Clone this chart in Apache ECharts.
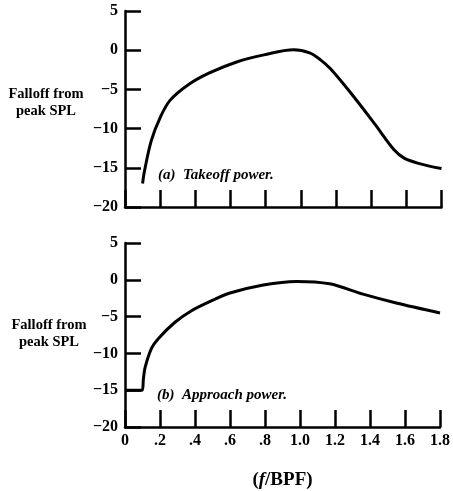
<!DOCTYPE html>
<html><head><meta charset="utf-8">
<script src="https://cdn.jsdelivr.net/npm/echarts@6/dist/echarts.min.js"></script>
<style>html,body{margin:0;padding:0;background:#fff}#c{width:453px;height:491px}</style>
</head><body><div id="c"></div>
<script>
// Data
const xTickLabels = ['0','.2','.4','.6','.8','1.0','1.2','1.4','1.6','1.8'];
const yTickLabels = ['\u221220','\u221215','\u221210','\u22125','0','5'];
const takeoffX = [0.10,0.11,0.15,0.20,0.256,0.36,0.48,0.635,0.79,0.96,1.05,1.11,1.17,1.30,1.42,1.53,1.59,1.68,1.80];
const takeoffY = [-17.0,-15.5,-11.5,-8.6,-6.4,-4.4,-2.9,-1.5,-0.6,0.05,-0.35,-1.2,-2.4,-5.9,-9.4,-12.7,-13.8,-14.5,-15.1];
const approachX = [0.0,0.098,0.105,0.115,0.152,0.19,0.284,0.38,0.49,0.60,0.79,0.98,1.17,1.36,1.55,1.80];
const approachY = [-15.0,-15.0,-13.5,-11.9,-9.3,-8.0,-5.8,-4.2,-2.9,-1.8,-0.7,-0.22,-0.55,-1.95,-3.15,-4.5];
const yLabelText = 'Falloff from\npeak SPL';
const captionA = '(a)  Takeoff power.';
const captionB = '(b)  Approach power.';

const serif = '"Liberation Serif","DejaVu Serif",serif';
const pair = (xs, ys) => xs.map((x, i) => [x, ys[i]]);

function xAxis(gi, showLabels) {
  return {
    type: 'value', gridIndex: gi, min: 0, max: 1.8, interval: 0.2,
    axisLine: { show: true, onZero: false, lineStyle: { color: '#000', width: 2.5 } },
    axisTick: { show: true, inside: true, length: 17, lineStyle: { color: '#000', width: 2.5 } },
    splitLine: { show: false },
    axisLabel: {
      show: showLabels, margin: 6, color: '#000', fontFamily: serif, fontWeight: 'bold', fontSize: 16,
      formatter: v => xTickLabels[Math.round(v / 0.2)]
    },
    name: showLabels ? '{p|(}{i|f}{p|/BPF)}' : '',
    nameLocation: 'middle', nameGap: 44,
    nameTextStyle: { rich: {
      p: { fontFamily: serif, fontWeight: 'bold', fontSize: 19, color: '#000' },
      i: { fontFamily: serif, fontWeight: 'bold', fontStyle: 'italic', fontSize: 19, color: '#000' }
    } }
  };
}
function yAxis(gi) {
  return {
    type: 'value', gridIndex: gi, min: -20, max: 5, interval: 5,
    axisLine: { show: true, onZero: false, lineStyle: { color: '#000', width: 2.5 } },
    axisTick: { show: true, inside: true, length: 16, lineStyle: { color: '#000', width: 2.5 } },
    splitLine: { show: false },
    axisLabel: {
      margin: 7, color: '#000', fontFamily: serif, fontWeight: 'bold', fontSize: 16,
      formatter: v => yTickLabels[Math.round((v + 20) / 5)]
    }
  };
}

const chart = echarts.init(document.getElementById('c'), null, { renderer: 'canvas' });
chart.setOption({
  backgroundColor: '#fff',
  animation: false,
  grid: [
    { left: 125, right: 11.5, top: 11, height: 196 },
    { left: 125, right: 11.5, top: 243, height: 188 }
  ],
  xAxis: [xAxis(0, false), xAxis(1, true)],
  yAxis: [yAxis(0), yAxis(1)],
  series: [
    { type: 'line', xAxisIndex: 0, yAxisIndex: 0, data: pair(takeoffX, takeoffY), smooth: 0.35,
      showSymbol: false, lineStyle: { color: '#000', width: 3 } },
    { type: 'line', xAxisIndex: 1, yAxisIndex: 1, data: pair(approachX, approachY), smooth: 0.3,
      showSymbol: false, lineStyle: { color: '#000', width: 3 } }
  ],
  graphic: [
    { type: 'text', x: 46, y: 103, style: { text: yLabelText, textAlign: 'center', textVerticalAlign: 'middle',
      font: 'bold 14.5px ' + serif, lineHeight: 17, fill: '#000' } },
    { type: 'text', x: 49, y: 334, style: { text: yLabelText, textAlign: 'center', textVerticalAlign: 'middle',
      font: 'bold 14.5px ' + serif, lineHeight: 17, fill: '#000' } },
    { type: 'text', x: 158, y: 175, style: { text: captionA, textVerticalAlign: 'middle',
      font: 'italic bold 15px ' + serif, fill: '#000' } },
    { type: 'text', x: 157, y: 395, style: { text: captionB, textVerticalAlign: 'middle',
      font: 'italic bold 15px ' + serif, fill: '#000' } }
  ]
});
</script></body></html>
